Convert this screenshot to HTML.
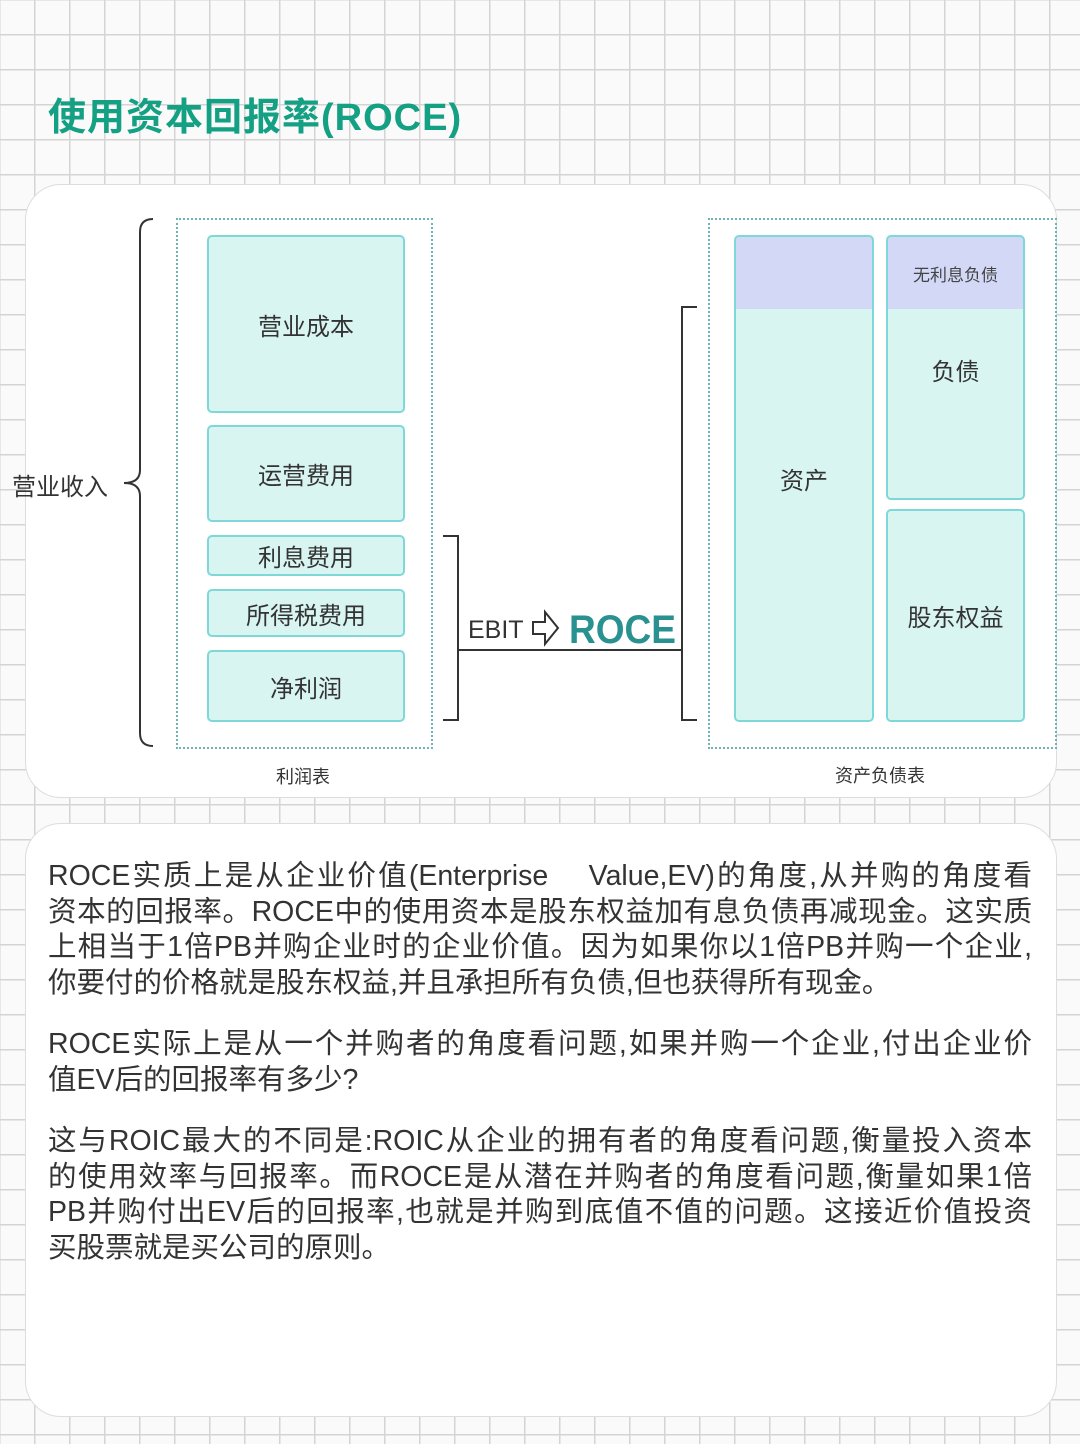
<!DOCTYPE html>
<html><head><meta charset="utf-8"><style>
body{margin:0;width:1080px;height:1444px;position:relative;overflow:hidden;font-family:"Liberation Sans","Noto Sans CJK SC",sans-serif;color:#333;
background-color:#fafafa;background-image:linear-gradient(#d4d4d4 1.5px,transparent 1.5px),linear-gradient(90deg,#d4d4d4 1.5px,transparent 1.5px);background-size:35px 35px;background-position:-1px -1px;}
.abs{position:absolute}
.card{position:absolute;background:#fff;border:1.5px solid #ddd;border-radius:36px}
.box{position:absolute;background:#d9f5f2;border:2.5px solid #7fd8d8;border-radius:5px;display:flex;align-items:center;justify-content:center;font-size:24px;color:#333;box-sizing:border-box}
.dot{position:absolute;border:2px dotted #6fb3b3}
.p{position:absolute;left:48px;width:984px;font-size:28.5px;line-height:35.5px;color:#333}
.p div{text-align:justify;text-align-last:justify;white-space:nowrap;height:35.5px}
.p div.l{text-align-last:left}
</style></head><body>
<div class="abs" style="left:48px;top:86px;font-size:38px;font-weight:bold;color:#13a083;letter-spacing:1px">使用资本回报率(ROCE)</div>
<div class="card" style="left:25px;top:184px;width:1030px;height:612px"></div>
<div class="card" style="left:25px;top:823px;width:1030px;height:592px"></div>

<div class="dot" style="left:176px;top:218px;width:253px;height:527px"></div>
<div class="dot" style="left:708px;top:218px;width:345px;height:527px"></div>

<div class="box" style="left:207px;top:235px;width:198px;height:178px">营业成本</div>
<div class="box" style="left:207px;top:425px;width:198px;height:97px">运营费用</div>
<div class="box" style="left:207px;top:535px;width:198px;height:41px">利息费用</div>
<div class="box" style="left:207px;top:589px;width:198px;height:48px">所得税费用</div>
<div class="box" style="left:207px;top:650px;width:198px;height:72px">净利润</div>

<div class="box" style="left:734px;top:235px;width:140px;height:487px;background:linear-gradient(#d2d8f5 0,#d2d8f5 72px,#d9f5f2 72px)">资产</div>
<div class="box" style="left:886px;top:235px;width:139px;height:265px;background:linear-gradient(#d2d8f5 0,#d2d8f5 72px,#d9f5f2 72px)"></div>
<div class="abs" style="left:886px;top:261px;width:139px;text-align:center;font-size:17px;color:#444">无利息负债</div>
<div class="abs" style="left:886px;top:352px;width:139px;text-align:center;font-size:24px;color:#333">负债</div>
<div class="box" style="left:886px;top:509px;width:139px;height:213px">股东权益</div>

<div class="abs" style="left:12px;top:467px;font-size:24px">营业收入</div>
<div class="abs" style="left:276px;top:763px;font-size:18px">利润表</div>
<div class="abs" style="left:835px;top:762px;font-size:18px">资产负债表</div>

<svg class="abs" style="left:0;top:0" width="1080" height="800">
<path d="M153 219 Q140 219 140 232 L140 470 Q140 483 124 483 Q140 483 140 496 L140 733 Q140 746 153 746" fill="none" stroke="#333" stroke-width="2"/>
<path d="M443 536 L458 536 L458 720 L443 720" fill="none" stroke="#333" stroke-width="2"/>
<path d="M697 307 L682 307 L682 720 L697 720" fill="none" stroke="#333" stroke-width="2"/>
<line x1="458" y1="650" x2="682" y2="650" stroke="#333" stroke-width="2"/>
<path d="M533 622 L545 622 L545 612 L558 628 L545 644 L545 634 L533 634 Z" fill="#fff" stroke="#333" stroke-width="2"/>
<text x="468" y="638" font-size="25" fill="#333" font-family="Liberation Sans">EBIT</text>
<text x="569" y="643" font-size="40" font-weight="bold" fill="#2a9191" font-family="Liberation Sans" textLength="107" lengthAdjust="spacingAndGlyphs">ROCE</text>
</svg>

<div class="p" style="top:859px">
<div>ROCE实质上是从企业价值(Enterprise&nbsp;&nbsp;&nbsp;&nbsp;Value,EV)的角度,从并购的角度看</div>
<div>资本的回报率。ROCE中的使用资本是股东权益加有息负债再减现金。这实质</div>
<div>上相当于1倍PB并购企业时的企业价值。因为如果你以1倍PB并购一个企业,</div>
<div class="l">你要付的价格就是股东权益,并且承担所有负债,但也获得所有现金。</div>
</div>
<div class="p" style="top:1027px">
<div>ROCE实际上是从一个并购者的角度看问题,如果并购一个企业,付出企业价</div>
<div class="l">值EV后的回报率有多少?</div>
</div>
<div class="p" style="top:1124px">
<div>这与ROIC最大的不同是:ROIC从企业的拥有者的角度看问题,衡量投入资本</div>
<div>的使用效率与回报率。而ROCE是从潜在并购者的角度看问题,衡量如果1倍</div>
<div>PB并购付出EV后的回报率,也就是并购到底值不值的问题。这接近价值投资</div>
<div class="l">买股票就是买公司的原则。</div>
</div>
</body></html>
